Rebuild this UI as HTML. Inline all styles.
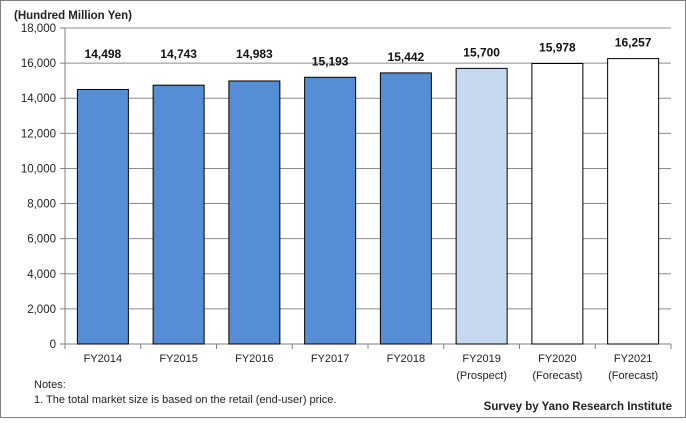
<!DOCTYPE html>
<html><head><meta charset="utf-8"><style>
body{margin:0;background:#fff;}
svg text{font-family:"Liberation Sans",sans-serif;}
</style></head><body>
<svg width="686" height="418" xmlns="http://www.w3.org/2000/svg">
<rect x="0.5" y="0.5" width="685" height="417" fill="#fff" stroke="#808080"/>
<text x="14" y="19" font-size="11.5" font-weight="bold" fill="#222">(Hundred Million Yen)</text>
<g id="grid"></g><g id="bars"></g><g id="labels"></g>
<text x="34" y="388" font-size="11" fill="#222">Notes:</text>
<text x="34" y="403" font-size="11" fill="#222">1. The total market size is based on the retail (end-user) price.</text>
<text x="672" y="410" font-size="11.5" font-weight="bold" text-anchor="end" fill="#222">Survey by Yano Research Institute</text>
</svg>
<script>
const categories=["FY2014","FY2015","FY2016","FY2017","FY2018","FY2019","FY2020","FY2021"];
const subLabels=["","","","","","(Prospect)","(Forecast)","(Forecast)"];
const values=[14498,14743,14983,15193,15442,15700,15978,16257];
const fills=["#558ed5","#558ed5","#558ed5","#558ed5","#558ed5","#c6d9f1","#ffffff","#ffffff"];
const ticks=[0,2000,4000,6000,8000,10000,12000,14000,16000,18000];
const NS="http://www.w3.org/2000/svg";
const L=65,R=671,T=28,B=344,MAX=18000;
const y=v=>B-(v/MAX)*(B-T);
const cw=(R-L)/categories.length;
const x=i=>L+cw*i+cw/2;
function mk(tag,at,parent,txt){const e=document.createElementNS(NS,tag);for(const k in at)e.setAttribute(k,at[k]);if(txt!==undefined)e.textContent=txt;parent.appendChild(e);return e;}
const grid=document.getElementById('grid'),bars=document.getElementById('bars'),labels=document.getElementById('labels');
ticks.forEach(t=>{
  const l=mk('line',{x1:L,x2:R,y1:y(t),y2:y(t),stroke:t===0?'#808080':'#8c8c8c','stroke-width':1},grid);
  
  
  const tl=mk('line',{x1:L-5,x2:L,y1:y(t),y2:y(t),stroke:'#808080'},grid);
  
  
  const tx=mk('text',{x:L-9,y:y(t)+4,'font-size':11.5,'text-anchor':'end',fill:'#222'},grid,t.toLocaleString('en-US'));
  
  
});
const ax=mk('line',{x1:L,x2:L,y1:T,y2:B,stroke:'#808080'},grid);


for(let i=0;i<=categories.length;i++){
  const tk=mk('line',{x1:L+cw*i,x2:L+cw*i,y1:B,y2:B+5,stroke:'#808080'},grid);
  
  
}
categories.forEach((c,i)=>{
  const bw=51;
  const r=mk('rect',{x:x(i)-bw/2,y:y(values[i]),width:bw,height:B-y(values[i]),fill:fills[i],stroke:'#000','stroke-width':1},bars);
  
  
  const txt=values[i].toLocaleString('en-US');
  const bg=mk('rect',{x:x(i)-24,y:46,width:48,height:16,fill:'#fff'},labels);
  
  
  const vl=mk('text',{x:x(i),y:y(values[i])-(i<5?22:12)>58?58:y(values[i])-12,'font-size':12,'font-weight':'bold','text-anchor':'middle',fill:'#111'},labels,txt);
  
  
  if(i>=5){bg.setAttribute('y',Number(vl.getAttribute('y'))-12);}
  const cl=mk('text',{x:x(i),y:362,'font-size':11,'text-anchor':'middle',fill:'#222'},labels,c);
  
  
  if(subLabels[i]){
    const sl=mk('text',{x:x(i),y:379,'font-size':11,'text-anchor':'middle',fill:'#222'},labels,subLabels[i]);
    
    
  }
});
</script>
</body></html>
